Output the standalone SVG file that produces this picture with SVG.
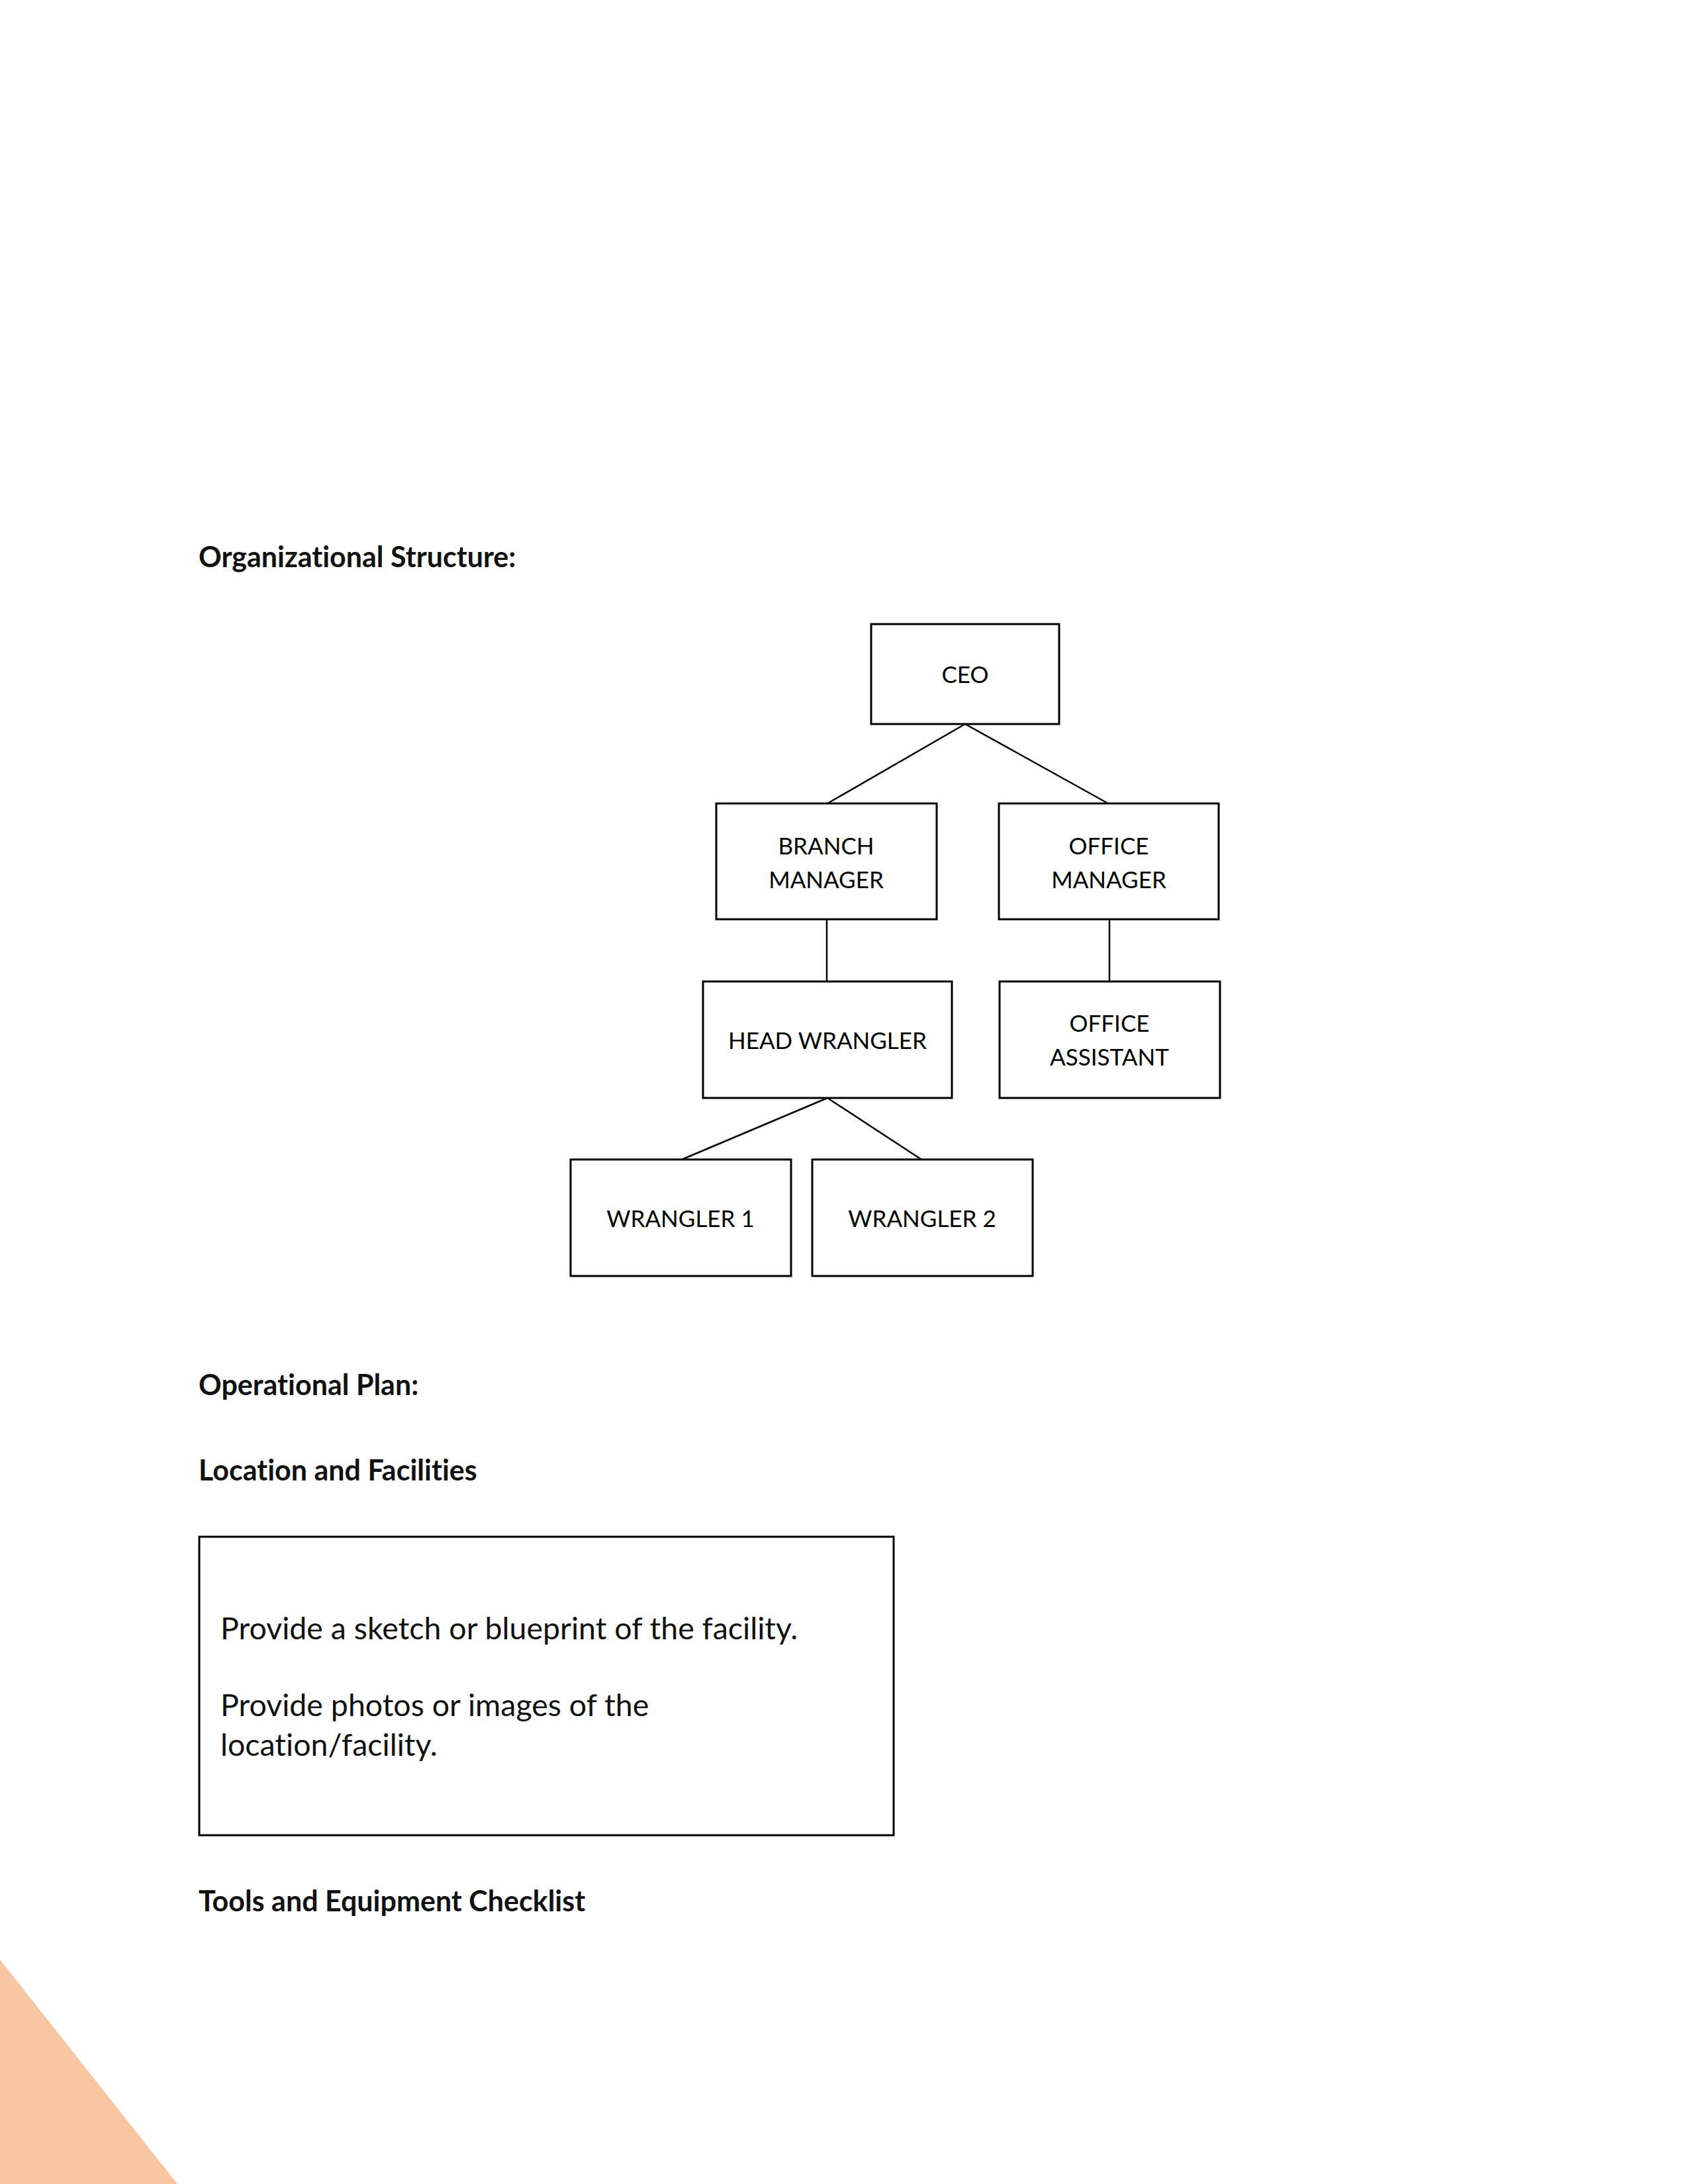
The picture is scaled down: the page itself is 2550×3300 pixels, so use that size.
<svg xmlns="http://www.w3.org/2000/svg" width="2550" height="3300" viewBox="0 0 2550 3300">
<style>
.bg{fill:#ffffff}
text{font-variant-ligatures:none}
.node rect{fill:#ffffff;stroke:#000000;stroke-width:3}
.node text{font-family:Lato,"Open Sans","Liberation Sans",sans-serif;font-size:35px;fill:#000000;text-anchor:middle}
.conn line{stroke:#000000;stroke-width:2.5}
.h{font-family:Lato,"Open Sans","Liberation Sans",sans-serif;font-weight:bold;font-size:43px;fill:#111111}
.body{font-family:Lato,"Open Sans","Liberation Sans",sans-serif;font-size:46.5px;fill:#111111}
</style>
<rect class="bg" x="0" y="0" width="2550" height="3300"/>
<polygon points="0,2961 268,3300 0,3300" fill="#F8C6A0"/>

<text class="h" x="300" y="857">Organizational Structure:</text>

<g id="connectors" class="conn">
<line x1="1458" y1="1094" x2="1250" y2="1214"/>
<line x1="1458" y1="1094" x2="1674" y2="1214"/>
<line x1="1249" y1="1389" x2="1249" y2="1483"/>
<line x1="1676" y1="1389" x2="1676" y2="1483"/>
<line x1="1250" y1="1659" x2="1030" y2="1752"/>
<line x1="1250" y1="1659" x2="1392" y2="1752"/>
</g>

<g id="ceo" class="node">
<rect x="1316" y="943" width="284" height="151"/>
<text x="1458" y="1032">CEO</text>
</g>
<g id="branch-manager" class="node">
<rect x="1082" y="1214" width="333" height="175"/>
<text x="1248" y="1291">BRANCH</text>
<text x="1248" y="1342">MANAGER</text>
</g>
<g id="office-manager" class="node">
<rect x="1509" y="1214" width="332" height="175"/>
<text x="1675" y="1291">OFFICE</text>
<text x="1675" y="1342">MANAGER</text>
</g>
<g id="head-wrangler" class="node">
<rect x="1062" y="1483" width="376" height="176"/>
<text x="1250" y="1585">HEAD WRANGLER</text>
</g>
<g id="office-assistant" class="node">
<rect x="1510" y="1483" width="333" height="176"/>
<text x="1676" y="1559">OFFICE</text>
<text x="1676" y="1610">ASSISTANT</text>
</g>
<g id="wrangler-1" class="node">
<rect x="862" y="1752" width="333" height="176"/>
<text x="1028" y="1854">WRANGLER 1</text>
</g>
<g id="wrangler-2" class="node">
<rect x="1227" y="1752" width="333" height="176"/>
<text x="1393" y="1854">WRANGLER 2</text>
</g>

<text class="h" x="300" y="2108">Operational Plan:</text>
<text class="h" x="300" y="2237">Location and Facilities</text>

<g id="facility-box">
<rect x="301" y="2322" width="1049" height="451" fill="none" stroke="#000000" stroke-width="3"/>
<text class="body" x="333" y="2477">Provide a sketch or blueprint of the facility.</text>
<text class="body" x="333" y="2593">Provide photos or images of the</text>
<text class="body" x="333" y="2653">location/facility.</text>
</g>

<text class="h" x="300" y="2888">Tools and Equipment Checklist</text>
</svg>
